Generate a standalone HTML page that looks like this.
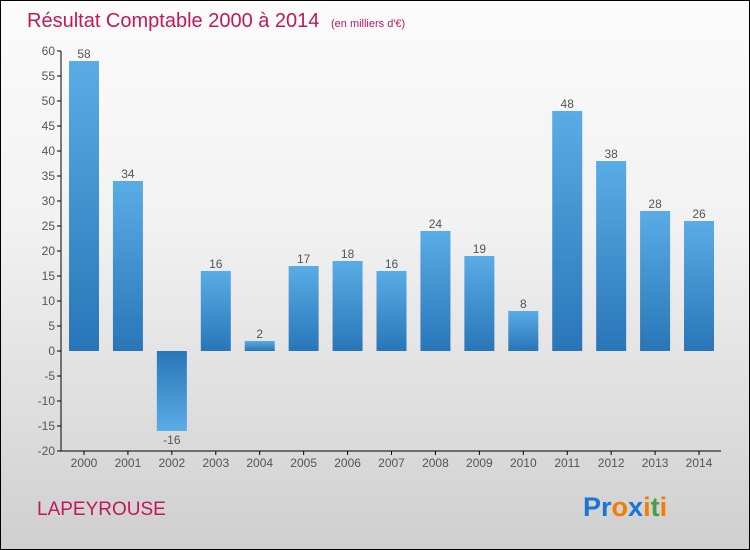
<!DOCTYPE html>
<html><head><meta charset="utf-8"><style>
body{margin:0;}
#wrap{width:748px;height:548px;border:1px solid #000;background:linear-gradient(#fbfbfb,#f2f2f2 40%,#cfcfcf);position:relative;font-family:"Liberation Sans",sans-serif;overflow:hidden}
</style></head><body>
<div id="wrap">
<svg id="chart" width="748" height="548" style="position:absolute;left:0;top:0">
<defs>
<linearGradient id="gp" x1="0" y1="0" x2="0" y2="1"><stop offset="0" stop-color="#5aace6"/><stop offset="1" stop-color="#2876b8"/></linearGradient>
<linearGradient id="gn" x1="0" y1="0" x2="0" y2="1"><stop offset="0" stop-color="#2876b8"/><stop offset="1" stop-color="#5aace6"/></linearGradient>
</defs>
<text x="26" y="26" font-size="20" fill="#c2185b">Résultat Comptable 2000 à 2014 <tspan font-size="11" dx="6">(en milliers d'€)</tspan></text>
<text x="36" y="514" font-size="19" fill="#c2185b">LAPEYROUSE</text>
<text x="582" y="515" font-size="27" font-weight="bold"><tspan fill="#1976d2">Pr</tspan><tspan fill="#f57c00">o</tspan><tspan fill="#1976d2">x</tspan><tspan fill="#f57c00">i</tspan><tspan fill="#43a047">t</tspan><tspan fill="#f57c00">i</tspan></text>
<g id="g"></g>
</svg>
</div>
<script>
const years=["2000","2001","2002","2003","2004","2005","2006","2007","2008","2009","2010","2011","2012","2013","2014"];
const values=[58,34,-16,16,2,17,18,16,24,19,8,48,38,28,26];
const yTicks=[60,55,50,45,40,35,30,25,20,15,10,5,0,-5,-10,-15,-20];
const NS="http://www.w3.org/2000/svg";
const g=document.getElementById('g');
const y=v=>350-(v)*5;
const x=i=>83+i*43.93;
function el(t,a){const e=document.createElementNS(NS,t);for(const k in a)e.setAttribute(k,a[k]);g.appendChild(e);return e;}
let ax=el('line',{x1:60,y1:y(60),x2:60,y2:y(-20),stroke:'#000'});


let bx=el('line',{x1:60,y1:y(-20),x2:720,y2:y(-20),stroke:'#000'});


yTicks.forEach(t=>{
 el('line',{x1:56,x2:60,y1:y(t),y2:y(t),stroke:'#000'});
 const tx=el('text',{x:54,y:y(t)+4,'font-size':12,'text-anchor':'end',fill:'#555'});
 tx.textContent=t;
 
 
});
years.forEach((yr,i)=>{
 const v=values[i],cx=x(i);
 el('line',{x1:cx,x2:cx,y1:y(-20),y2:y(-20)+4,stroke:'#000'});
 const tl=el('text',{x:cx,y:y(-20)+16,'font-size':12,'text-anchor':'middle',fill:'#555'});
 tl.textContent=yr;
 
 
 const top=Math.min(y(v),y(0)),h=Math.abs(y(v)-y(0));
 const r=el('rect',{x:cx-15,y:top,width:30,height:h,fill:v>=0?'url(#gp)':'url(#gn)'});
 
 
 const lb=el('text',{x:cx,y:v>=0?y(v)-3:y(v)+13,'font-size':12,'text-anchor':'middle',fill:'#555'});
 lb.textContent=v;
 
 
});
</script>
</body></html>
